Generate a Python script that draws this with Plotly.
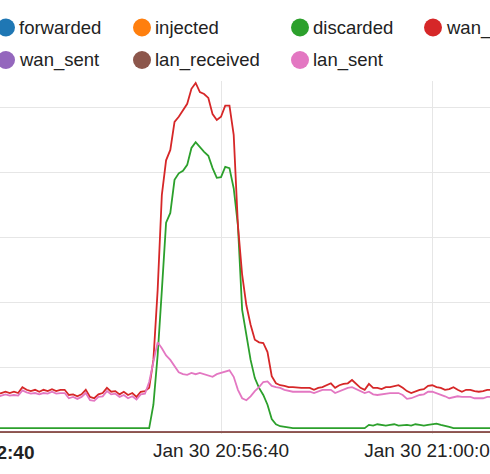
import pandas as pd
import plotly.graph_objects as go

# time axis: samples every 4 s starting Jan 30 20:52:40
t_start = "2015-01-30 20:52:40"
n_points = 126
times = pd.date_range(t_start, periods=n_points, freq="4s")

series_names = ["forwarded", "injected", "discarded", "wan_received", "wan_sent", "lan_received", "lan_sent"]
series_colors = ["#1f77b4", "#ff7f0e", "#2ca02c", "#d62728", "#9467bd", "#8c564b", "#e377c2"]

wan_received = [
    .60, .62, .58, .62, .63, .60, .62, .58, .60, .62, .60, .62, .60, .69, .65, .63, .65, .62, .65, .63,
    .66, .63, .65, .65, .57, .58, .55, .58, .65, .54, .52, .58, .60, .68, .62, .63, .58, .62, .57, .60,
    .54, .62, .63, .68, 1.11, 2.18, 3.65, 4.18, 4.34, 4.77, 4.85, 4.95, 5.05, 5.28, 5.37, 5.23, 5.20, 5.14, 4.89, 4.80,
    4.85, 5.02, 5.02, 4.57, 3.18, 2.42, 1.95, 1.65, 1.42, 1.38, 1.37, 1.23, .86, .75, .72, .71, .69, .69, .68, .68,
    .68, .68, .65, .68, .69, .72, .75, .68, .72, .74, .75, .80, .74, .68, .65, .74, .68, .68, .66, .69,
    .69, .71, .72, .68, .63, .60, .63, .65, .66, .71, .72, .69, .68, .65, .66, .69, .65, .62, .65, .65,
    .63, .62, .63, .65, .65, .63,
]

lan_sent = [
    .56, .58, .54, .57, .59, .56, .58, .54, .56, .58, .56, .57, .56, .64, .61, .59, .60, .58, .60, .59,
    .62, .59, .60, .60, .52, .54, .51, .54, .60, .49, .48, .54, .55, .63, .58, .59, .54, .57, .52, .55,
    .50, .58, .59, .77, 1.08, 1.38, 1.29, 1.18, 1.11, 1.02, .92, .89, .88, .91, .89, .91, .89, .88, .85, .89,
    .91, .92, .95, .85, .65, .52, .49, .55, .63, .69, .77, .78, .71, .69, .68, .65, .63, .62, .62, .62,
    .62, .62, .60, .63, .65, .65, .65, .60, .63, .66, .68, .69, .66, .63, .60, .62, .58, .57, .58, .60,
    .60, .60, .60, .57, .51, .52, .55, .57, .58, .62, .62, .60, .57, .55, .52, .54, .55, .54, .54, .54,
    .52, .52, .52, .54, .54, .54,
]

discarded = [
    .06, .06, .06, .06, .06, .06, .06, .06, .06, .06, .06, .06, .06, .06, .06, .06, .06, .06, .06, .06,
    .06, .06, .06, .06, .06, .06, .06, .06, .06, .06, .06, .06, .06, .06, .06, .06, .06, .06, .06, .06,
    .06, .06, .06, .06, .42, 1.18, 2.18, 3.22, 3.37, 3.88, 3.98, 4.02, 4.11, 4.37, 4.46, 4.38, 4.31, 4.25, 4.06, 3.91,
    3.92, 4.08, 4.06, 3.75, 3.18, 1.88, 1.49, 1.11, .83, .68, .57, .42, .20, .12, .09, .08, .06, .06, .06, .06,
    .06, .06, .06, .06, .06, .06, .06, .06, .06, .06, .06, .06, .06, .06, .06, .11, .10, .12, .11, .10,
    .11, .12, .10, .11, .11, .10, .12, .11, .10, .11, .12, .13, .11, .10, .08, .06, .06, .06, .06, .06,
    .06, .06, .06, .06, .06, .06,
]

forwarded = [0.0] * n_points
injected = [0.0] * n_points
wan_sent = [0.0] * n_points
lan_received = [0.0] * n_points

series_values = [forwarded, injected, discarded, wan_received, wan_sent, lan_received, lan_sent]

x_tick_vals = ["2015-01-30 20:56:40", "2015-01-30 21:00:00"]
x_min_label = "Jan 30 20:52:40"
x_range = ["2015-01-30 20:53:10.8", "2015-01-30 21:00:54.6"]
y_grid_vals = [1, 2, 3, 4, 5]

FONT = "Liberation Sans, Arial, Helvetica, sans-serif"

fig = go.Figure()
for name, vals, col in zip(series_names, series_values, series_colors):
    fig.add_trace(go.Scatter(
        x=times, y=vals, name=name, mode="lines",
        line=dict(color=col, width=1.8), showlegend=False,
        hoverinfo="skip",
    ))

W, H = 490, 474
plot_top, plot_bottom = 81, 434
plot_h = plot_bottom - plot_top

# custom legend (NVD3 style): coloured circles + labels in aligned columns
legend_cols = [6, 142, 300, 433]
legend_rows = [27.5, 60]
legend_layout = [(0, 0), (1, 0), (2, 0), (3, 0), (0, 1), (1, 1), (2, 1)]
shapes = []
annotations = []
for name, col, (ci, ri) in zip(series_names, series_colors, legend_layout):
    px = legend_cols[ci]
    py = legend_rows[ri]
    xp = px / W
    yp = (plot_bottom - py) / plot_h
    shapes.append(dict(
        type="circle", xref="paper", yref="paper",
        xsizemode="pixel", ysizemode="pixel", xanchor=xp, yanchor=yp,
        x0=-9, x1=9, y0=-9, y1=9,
        fillcolor=col, line=dict(color=col, width=0),
    ))
    annotations.append(dict(
        text=name, xref="paper", yref="paper", x=(px + 11) / W, y=yp,
        xanchor="left", yanchor="middle", showarrow=False,
        font=dict(family=FONT, size=18.5, color="#222"),
    ))

# bold domain-minimum label at the left edge
annotations.append(dict(
    text="<b>" + x_min_label + "</b>", xref="paper", yref="paper",
    x=37 / W, y=(plot_bottom - 452) / plot_h, xanchor="right", yanchor="middle",
    showarrow=False, font=dict(family=FONT, size=19, color="#222"),
))

fig.update_layout(
    width=W, height=H, autosize=False,
    margin=dict(l=0, r=0, t=plot_top, b=H - plot_bottom, pad=0, autoexpand=False),
    paper_bgcolor="white", plot_bgcolor="white",
    shapes=shapes, annotations=annotations,
    showlegend=False,
    font=dict(family=FONT, size=19, color="#222"),
)
fig.update_xaxes(
    type="date", range=x_range, tickvals=x_tick_vals, tickformat="%b %d %H:%M:%S",
    showgrid=True, gridcolor="#e6e6e6", gridwidth=1.2, zeroline=False, showline=False,
    ticks="", tickfont=dict(family=FONT, size=19, color="#222"),
    ticklabeloverflow="allow", automargin=False, ticklabelstandoff=3,
)
fig.update_yaxes(
    range=[-0.03, 5.40], tickvals=y_grid_vals, showticklabels=False,
    showgrid=True, gridcolor="#e6e6e6", gridwidth=1.2, zeroline=False, showline=False, ticks="",
    automargin=False,
)

fig.write_html(
    "out.html",
    config={"displayModeBar": False, "responsive": False},
    post_script="document.body.style.margin='0';document.body.style.overflow='hidden';",
)
